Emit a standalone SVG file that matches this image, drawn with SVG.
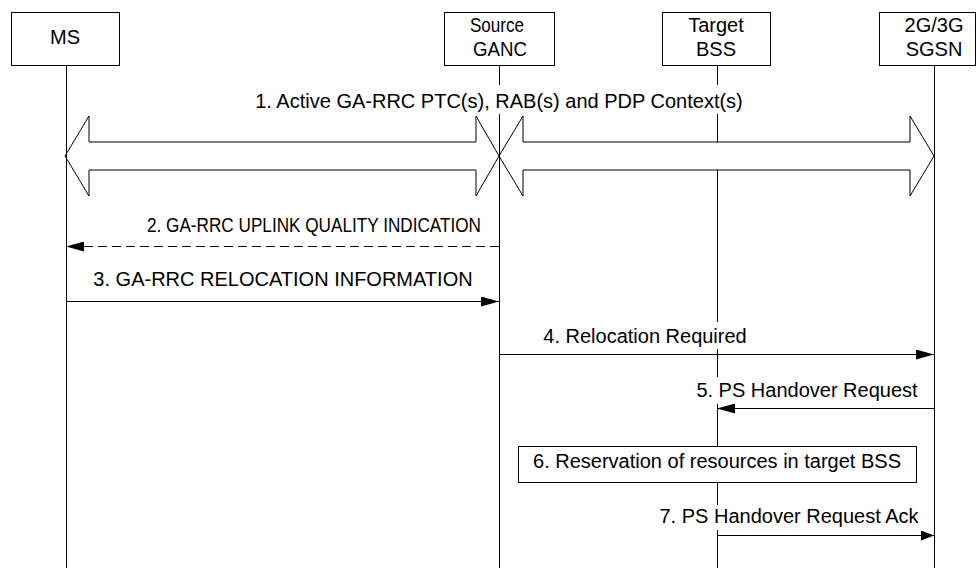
<svg xmlns="http://www.w3.org/2000/svg" width="977" height="568" viewBox="0 0 977 568">
<style>
  text { font-family: "Liberation Sans", Arial, sans-serif; font-size: 20px; fill: #000; }
  .mid { text-anchor: middle; }
  .box { fill: #fff; stroke: #000; stroke-width: 1; }
  .life { fill: none; stroke: #000; stroke-width: 1; }
  .msg { fill: none; stroke: #000; stroke-width: 1; }
  .dash { stroke-dasharray: 9 5; }
  .big { fill: #fff; stroke: #000; stroke-width: 1; stroke-linejoin: miter; }
</style>
<defs>
  <marker id="ah" markerUnits="userSpaceOnUse" markerWidth="18" markerHeight="10" refX="18" refY="5" orient="auto">
    <path d="M0,0 L18,5 L0,10 z" fill="#000"/>
  </marker>
  <marker id="ahs" markerUnits="userSpaceOnUse" markerWidth="13" markerHeight="10" refX="13" refY="5" orient="auto">
    <path d="M0,0 L13,5 L0,10 z" fill="#000"/>
  </marker>
</defs>

<g id="connectors">
  <g id="msg1">
    <polygon class="big" points="65,156 89,116 89,142 476,142 476,116 499,156 476,196 476,170 89,170 89,196"/>
    <polygon class="big" points="499,156 523,116 523,142 910,142 910,116 934,156 910,196 910,170 523,170 523,196"/>
    <text class="mid" x="499" y="108">1. Active GA-RRC PTC(s), RAB(s) and PDP Context(s)</text>
  </g>
  <g id="msg2">
    <line class="msg dash" x1="499" y1="246.5" x2="66" y2="246.5" marker-end="url(#ah)"/>
    <text x="147" y="232" textLength="334" lengthAdjust="spacingAndGlyphs">2. GA-RRC UPLINK QUALITY INDICATION</text>
  </g>
  <g id="msg3">
    <line class="msg" x1="66" y1="301.5" x2="499" y2="301.5" marker-end="url(#ah)"/>
    <text class="mid" x="283" y="286">3. GA-RRC RELOCATION INFORMATION</text>
  </g>
  <g id="msg4">
    <line class="msg" x1="499" y1="354.5" x2="934" y2="354.5" marker-end="url(#ah)"/>
    <text class="mid" x="645" y="343">4. Relocation Required</text>
  </g>
  <g id="msg5">
    <line class="msg" x1="934" y1="408.5" x2="717" y2="408.5" marker-end="url(#ah)"/>
    <text class="mid" x="807" y="397">5. PS Handover Request</text>
  </g>
  <g id="msg7">
    <line class="msg" x1="717" y1="535.5" x2="934" y2="535.5" marker-end="url(#ahs)"/>
    <text class="mid" x="789" y="523">7. PS Handover Request Ack</text>
  </g>
</g>

<g id="node-ms">
  <rect class="box" x="11.5" y="12.5" width="108" height="53"/>
  <text class="mid" x="65" y="44">MS</text>
  <path class="life" d="M66.5,66 V568"/>
</g>
<g id="node-source-ganc">
  <rect class="box" x="444.5" y="12.5" width="110" height="53"/>
  <text class="mid" x="497" y="32" textLength="54" lengthAdjust="spacingAndGlyphs">Source</text>
  <text class="mid" x="500" y="56" textLength="54" lengthAdjust="spacingAndGlyphs">GANC</text>
  <path class="life" d="M499.5,66 V85 M499.5,114 V568"/>
</g>
<g id="node-target-bss">
  <rect class="box" x="662.5" y="12.5" width="108" height="53"/>
  <text class="mid" x="716" y="32">Target</text>
  <text class="mid" x="716" y="56">BSS</text>
  <path class="life" d="M717.5,66 V85 M717.5,114 V142 M717.5,170 V322 M717.5,349 V377 M717.5,404 V446 M717.5,482 V505 M717.5,530 V568"/>
</g>
<g id="node-sgsn">
  <rect class="box" x="879.5" y="12.5" width="96" height="53"/>
  <text class="mid" x="934" y="32">2G/3G</text>
  <text class="mid" x="934" y="56">SGSN</text>
  <path class="life" d="M934.5,66 V568"/>
</g>
<g id="node-step6">
  <rect class="box" x="518.5" y="446.5" width="398" height="36"/>
  <text class="mid" x="717" y="468">6. Reservation of resources in target BSS</text>
</g>
</svg>
